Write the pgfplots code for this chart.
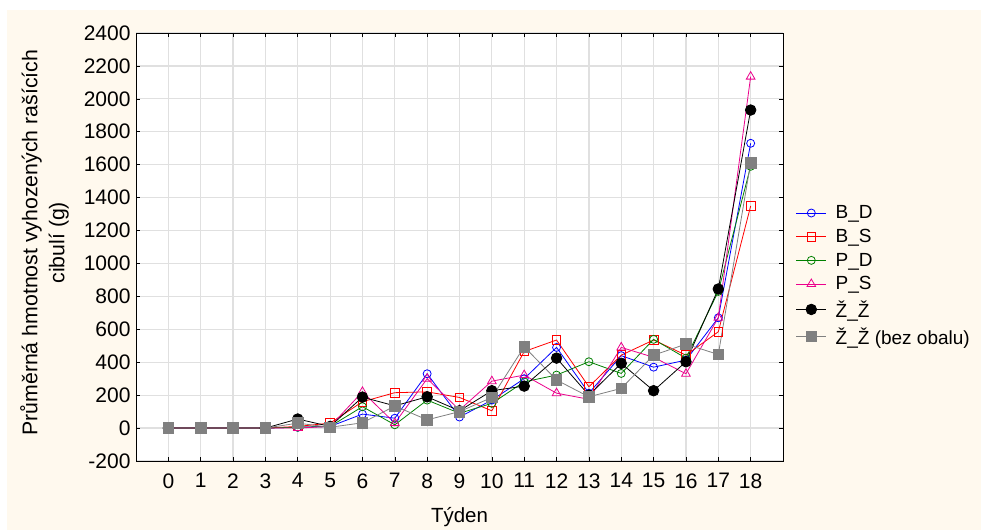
\documentclass[border=0pt]{standalone}
\usepackage{fontspec}
\setmainfont{Liberation Sans}
\usepackage{pgfplots}
\pgfplotsset{compat=1.18}
\definecolor{cream}{HTML}{FFF9EE}
\definecolor{gridc}{HTML}{E0E0E0}
\definecolor{pdgreen}{HTML}{008000}
\definecolor{zzgrey}{HTML}{808080}
\begin{document}
\begin{tikzpicture}
\path[use as bounding box] (0pt,0pt) rectangle (981pt,530pt);
\fill[cream] (7pt,0pt) rectangle (981pt,520pt);
\begin{axis}[
  at={(136pt,69pt)}, anchor=south west,
  scale only axis, width=647pt, height=428pt,
  xmin=-1, xmax=19, ymin=-200, ymax=2400,
  xtick={0,...,18}, ytick={-200,0,200,...,2400},
  grid=major, major grid style={draw=gridc, line width=1.2pt},
  axis background/.style={fill=white},
  xtick pos=both, ytick pos=both,
  tick align=inside, major tick length=4pt,
  tick style={black, line width=0.6pt},
  axis line style={black, line width=0.8pt},
  /pgf/number format/assume math mode=true,
  /pgf/number format/1000 sep={},
  ticklabel style={font=\fontsize{21}{23}\selectfont},
  xticklabel style={yshift=-9pt},
  yticklabel style={xshift=-2pt},
  xlabel={Týden},
  xlabel style={at={(axis description cs:0.5,0)}, anchor=center, yshift=-56pt, font=\fontsize{20.5}{22}\selectfont},
  ylabel={Průměrná hmotnost vyhozených rašících\\cibulí (g)},
  ylabel style={at={(axis description cs:-0.1414,0.51)}, anchor=center, align=center, font=\fontsize{21.3}{27}\selectfont},
  legend style={at={(axis description cs:1.015,0.433)}, anchor=west, draw=none, fill=none,
    font=\fontsize{19}{22}\selectfont, row sep=5pt,
    /tikz/every odd column/.append style={column sep=7pt}},
  legend cell align=left,
  legend image code/.code={\draw[mark repeat=2,mark phase=2] plot coordinates {(0pt,0pt) (15pt,0pt) (30pt,0pt)};},
  every axis plot/.append style={line width=0.8pt, mark options={solid}},
]
\addplot[blue, mark=o, mark size=4pt] coordinates {
(0,0)(1,0)(2,0)(3,0)(4,5)(5,10)(6,85)(7,60)(8,330)(9,67)(10,170)(11,300)(12,490)(13,212)(14,440)(15,370)(16,413)(17,670)(18,1730)};
\addlegendentry{B\_D}
\addplot[red, mark=square, mark size=4.3pt] coordinates {
(0,0)(1,0)(2,0)(3,0)(4,10)(5,30)(6,160)(7,215)(8,220)(9,186)(10,105)(11,465)(12,535)(13,251)(14,443)(15,535)(16,443)(17,585)(18,1349)};
\addlegendentry{B\_S}
\addplot[pdgreen, mark=o, mark size=4pt] coordinates {
(0,0)(1,0)(2,0)(3,0)(4,5)(5,10)(6,130)(7,20)(8,170)(9,90)(10,150)(11,281)(12,322)(13,403)(14,332)(15,539)(16,425)(17,830)(18,1590)};
\addlegendentry{P\_D}
\addplot[magenta, mark=triangle, mark size=5pt] coordinates {
(0,0)(1,0)(2,0)(3,0)(4,0)(5,10)(6,220)(7,30)(8,300)(9,110)(10,285)(11,322)(12,212)(13,175)(14,490)(15,430)(16,330)(17,670)(18,2135)};
\addlegendentry{P\_S}
\addplot[black, mark=*, mark size=5.3pt] coordinates {
(0,0)(1,0)(2,0)(3,0)(4,55)(5,10)(6,188)(7,135)(8,190)(9,105)(10,227)(11,255)(12,425)(13,200)(14,393)(15,227)(16,403)(17,845)(18,1932)};
\addlegendentry{Ž\_Ž}
\addplot[zzgrey, mark=square*, mark size=5.3pt, mark options={fill=zzgrey}] coordinates {
(0,0)(1,0)(2,0)(3,0)(4,30)(5,5)(6,32)(7,134)(8,50)(9,100)(10,186)(11,494)(12,292)(13,190)(14,241)(15,443)(16,510)(17,447)(18,1612)};
\addlegendentry{Ž\_Ž (bez obalu)}
\end{axis}
\end{tikzpicture}
\end{document}
